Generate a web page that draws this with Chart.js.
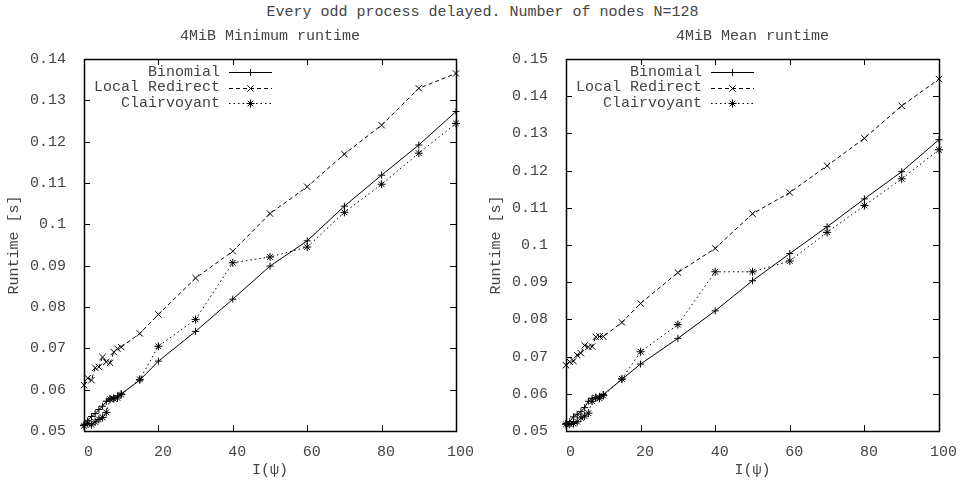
<!DOCTYPE html>
<html>
<head>
<meta charset="utf-8">
<script src="https://cdn.jsdelivr.net/npm/chart.js@4/dist/chart.umd.min.js"></script>
<style>
  html, body { margin: 0; padding: 0; background: #fff; }
  #wrap { position: relative; width: 965px; height: 480px; overflow: hidden; }
  #title {
    position: absolute; left: 0; top: 4px; width: 965px; text-align: center;
    font: 15px/18px "Liberation Mono", "DejaVu Sans Mono", monospace; color: #444;
  }
  canvas { position: absolute; top: 0; }
</style>
</head>
<body>
<div id="wrap">
  <div id="title">Every odd process delayed. Number of nodes N=128</div>
  <canvas id="minChart" width="482" height="480" style="left:0"></canvas>
  <canvas id="meanChart" width="483" height="480" style="left:482px"></canvas>
</div>
<script>
// I(psi) values measured
const psi = [0, 1, 2, 3, 4, 5, 6, 7, 8, 9, 10, 15, 20, 30, 40, 50, 60, 70, 80, 90, 100];

// minimum runtime [s]
const binomialMin = [0.0515, 0.0525, 0.0535, 0.0542, 0.0552, 0.0560, 0.0572, 0.0578, 0.0580, 0.0585, 0.0590,
                     0.0623, 0.0669, 0.0741, 0.0819, 0.0899, 0.0960, 0.1044, 0.1119, 0.1192, 0.1273];
const redirectMin = [0.0611, 0.0628, 0.0623, 0.0653, 0.0655, 0.0679, 0.0667, 0.0665, 0.0691, 0.0699, 0.0703,
                     0.0736, 0.0782, 0.0870, 0.0935, 0.1026, 0.1091, 0.1170, 0.1240, 0.1329, 0.1365];
const clairMin    = [0.0513, 0.0518, 0.0515, 0.0522, 0.0528, 0.0533, 0.0545, 0.0577, 0.0578, 0.0580, 0.0588,
                     0.0625, 0.0705, 0.0770, 0.0907, 0.0921, 0.0945, 0.1029, 0.1097, 0.1172, 0.1244];

// mean runtime [s]
const binomialMean = [0.0520, 0.0525, 0.0538, 0.0545, 0.0552, 0.0563, 0.0580, 0.0588, 0.0590, 0.0593, 0.0598,
                      0.0639, 0.0680, 0.0749, 0.0823, 0.0904, 0.0977, 0.1049, 0.1124, 0.1197, 0.1283];
const redirectMean = [0.0677, 0.0686, 0.0688, 0.0704, 0.0709, 0.0730, 0.0726, 0.0727, 0.0753, 0.0754, 0.0754,
                      0.0792, 0.0843, 0.0926, 0.0991, 0.1084, 0.1141, 0.1213, 0.1287, 0.1374, 0.1446];
const clairMean    = [0.0518, 0.0518, 0.0520, 0.0525, 0.0535, 0.0540, 0.0548, 0.0580, 0.0590, 0.0588, 0.0595,
                      0.0640, 0.0713, 0.0786, 0.0928, 0.0928, 0.0957, 0.1034, 0.1106, 0.1178, 0.1256];

const seriesNames = ['Binomial', 'Local Redirect', 'Clairvoyant'];
const xTicks = [0, 20, 40, 60, 80, 100];

const FONT = '"Liberation Mono", "DejaVu Sans Mono", monospace';
const TEXT = '#444';

const styles = [
  { borderDash: [], pointStyle: 'cross', pointRadius: 3.5 },
  { borderDash: [4, 3], pointStyle: 'crossRot', pointRadius: 4.5 },
  { borderDash: [1.5, 3], pointStyle: 'star', pointRadius: 4 }
];

function makeDatasets(lists) {
  return lists.map((vals, i) => ({
    label: seriesNames[i],
    data: psi.map((x, j) => ({ x: x, y: vals[j] })),
    borderColor: '#000',
    borderWidth: 1,
    borderDash: styles[i].borderDash,
    pointStyle: styles[i].pointStyle,
    pointRadius: styles[i].pointRadius,
    pointBorderColor: '#000',
    pointBackgroundColor: '#000',
    pointBorderWidth: 1,
    tension: 0,
    clip: false
  }));
}

// box around the plot with inward ticks on all four sides
const frame = {
  id: 'frame',
  beforeDatasetsDraw(chart) {
    const { ctx, chartArea: a, scales } = chart;
    const t = 6;
    ctx.save();
    ctx.strokeStyle = '#000';
    ctx.lineWidth = 1;
    ctx.beginPath();
    scales.x.ticks.forEach(tk => {
      const px = Math.round(scales.x.getPixelForValue(tk.value)) + 0.5;
      ctx.moveTo(px, a.bottom); ctx.lineTo(px, a.bottom - t);
      ctx.moveTo(px, a.top); ctx.lineTo(px, a.top + t);
    });
    scales.y.ticks.forEach(tk => {
      const py = Math.round(scales.y.getPixelForValue(tk.value)) + 0.5;
      ctx.moveTo(a.left, py); ctx.lineTo(a.left + t, py);
      ctx.moveTo(a.right, py); ctx.lineTo(a.right - t, py);
    });
    ctx.stroke();
    ctx.lineWidth = 1.5;
    ctx.strokeRect(Math.round(a.left) + 0.5, Math.round(a.top) + 0.5,
                   Math.round(a.right - a.left), Math.round(a.bottom - a.top));
    ctx.restore();
  }
};

function marker(ctx, style, r, x, y) {
  if (Chart.helpers && Chart.helpers.drawPoint) {
    Chart.helpers.drawPoint(ctx, { pointStyle: style, radius: r, borderWidth: 1, rotation: 0 }, x, y);
    return;
  }
  ctx.beginPath();
  if (style !== 'crossRot') { ctx.moveTo(x - r, y); ctx.lineTo(x + r, y); ctx.moveTo(x, y - r); ctx.lineTo(x, y + r); }
  if (style !== 'cross') { const d = r * 0.707; ctx.moveTo(x - d, y - d); ctx.lineTo(x + d, y + d); ctx.moveTo(x - d, y + d); ctx.lineTo(x + d, y - d); }
  ctx.stroke();
}

// key in the top-left corner: label, then line sample with its marker
const key = {
  id: 'key',
  afterDraw(chart) {
    const ctx = chart.ctx;
    const textRight = 220, x0 = 229, x1 = 272;
    ctx.save();
    ctx.font = '15px ' + FONT;
    ctx.textAlign = 'right';
    ctx.textBaseline = 'middle';
    chart.data.datasets.forEach((ds, i) => {
      const y = 72 + i * 15.5;
      ctx.fillStyle = TEXT;
      ctx.fillText(ds.label, textRight, y);
      ctx.strokeStyle = '#000';
      ctx.lineWidth = 1;
      ctx.setLineDash(ds.borderDash);
      ctx.beginPath();
      ctx.moveTo(x0, Math.round(y) + 0.5);
      ctx.lineTo(x1, Math.round(y) + 0.5);
      ctx.stroke();
      ctx.setLineDash([]);
      marker(ctx, ds.pointStyle, ds.pointRadius, (x0 + x1) / 2, Math.round(y) + 0.5);
    });
    ctx.restore();
  }
};

function buildChart(canvasId, subtitle, lists, yMax) {
  return new Chart(document.getElementById(canvasId), {
    type: 'line',
    data: { datasets: makeDatasets(lists) },
    plugins: [frame, key],
    options: {
      responsive: false,
      animation: false,
      events: [],
      layout: { padding: { left: 0, right: 26, top: 0, bottom: 0 } },
      plugins: { legend: { display: false }, title: { display: false }, tooltip: { enabled: false } },
      scales: {
        x: {
          type: 'linear',
          position: 'bottom',
          min: 0, max: 100,
          afterBuildTicks: s => { s.ticks = xTicks.map(v => ({ value: v })); },
          afterFit: s => { s.height = 49; },
          grid: { display: false },
          border: { display: false },
          ticks: { padding: 4.5, labelOffset: 4.5, color: TEXT, font: { family: FONT, size: 15 }, maxRotation: 0 },
          title: { display: true, text: 'I(ψ)', color: TEXT, font: { family: FONT, size: 15 }, padding: { top: 0, bottom: 1 } }
        },
        top: {
          type: 'linear',
          position: 'top',
          min: 0, max: 100,
          afterFit: s => { s.height = 59; },
          grid: { display: false },
          border: { display: false },
          ticks: { display: false },
          title: { display: true, text: subtitle, color: TEXT, font: { family: FONT, size: 15 }, padding: { top: 27.5, bottom: 0 } }
        },
        y: {
          type: 'linear',
          min: 0.05, max: yMax,
          ticks: {
            stepSize: 0.01,
            padding: 10,
            color: TEXT,
            font: { family: FONT, size: 15 },
            callback: v => String(Number(v.toFixed(2)))
          },
          afterFit: s => { s.width = 84; },
          grid: { display: false },
          border: { display: false },
          title: { display: true, text: 'Runtime [s]', color: TEXT, font: { family: FONT, size: 15 }, padding: { top: 5.5, bottom: 0 } }
        }
      }
    }
  });
}

buildChart('minChart', '4MiB Minimum runtime', [binomialMin, redirectMin, clairMin], 0.14);
buildChart('meanChart', '4MiB Mean runtime', [binomialMean, redirectMean, clairMean], 0.15);
</script>
</body>
</html>
